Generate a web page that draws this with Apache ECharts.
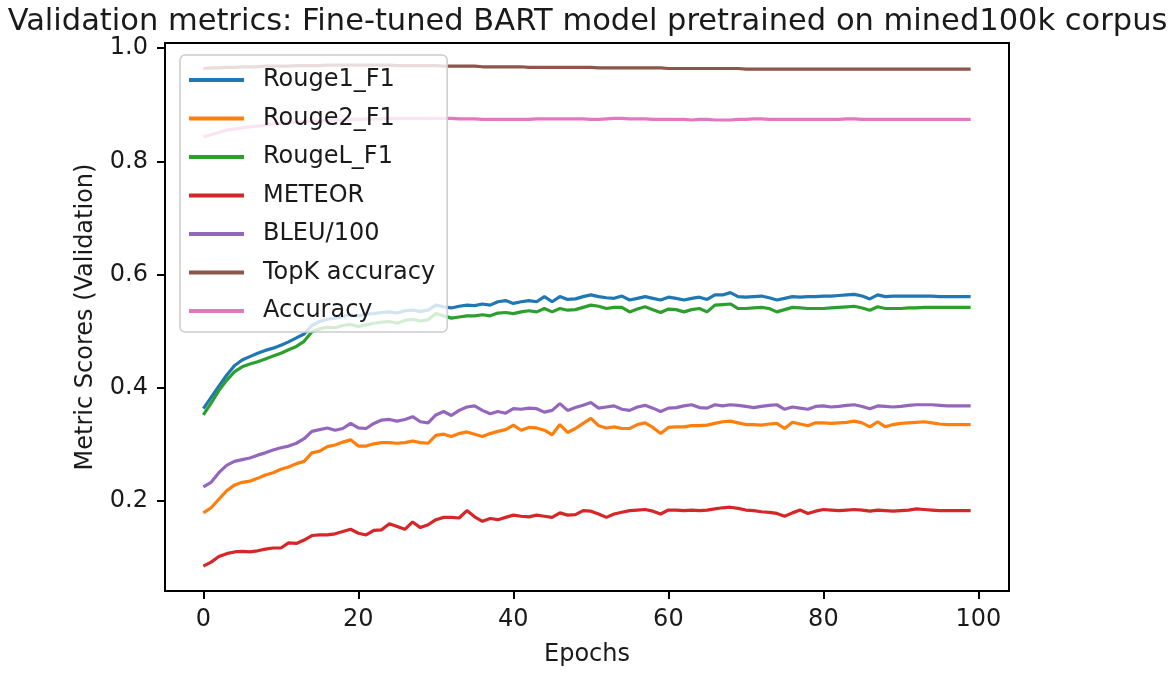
<!DOCTYPE html>
<html>
<head>
<meta charset="utf-8">
<script src="https://cdn.jsdelivr.net/npm/echarts@6/dist/echarts.min.js"></script>
<style>html,body{margin:0;padding:0;background:#fff;}#chart{width:1175px;height:675px;}</style>
</head>
<body>
<div id="chart"></div>
<script>
const titleText = 'Validation metrics: Fine-tuned BART model pretrained on mined100k corpus';
const seriesNames = ['Rouge1_F1', 'Rouge2_F1', 'RougeL_F1', 'METEOR', 'BLEU/100', 'TopK accuracy', 'Accuracy'];
const colors = ['#1f77b4', '#ff7f0e', '#2ca02c', '#d62728', '#9467bd', '#8c564b', '#e377c2'];
const xTicks = [0, 20, 40, 60, 80, 100];
const yTicks = [0.2, 0.4, 0.6, 0.8, 1.0];
const epochs = Array.from({length: 100}, (_, i) => i);

const rouge1 = [
0.363,0.383,0.403,0.422,0.439,0.449,0.455,0.461,0.466,0.470,
0.475,0.481,0.488,0.495,0.510,0.517,0.521,0.523,0.526,0.529,
0.527,0.530,0.531,0.533,0.534,0.532,0.536,0.537,0.535,0.537,
0.546,0.543,0.541,0.544,0.546,0.545,0.548,0.546,0.552,0.554,
0.549,0.552,0.554,0.552,0.561,0.552,0.561,0.556,0.557,0.561,
0.564,0.561,0.559,0.558,0.562,0.555,0.558,0.561,0.558,0.555,
0.560,0.558,0.555,0.558,0.560,0.556,0.564,0.564,0.568,0.561,
0.560,0.561,0.562,0.559,0.555,0.558,0.561,0.560,0.561,0.561,
0.562,0.562,0.563,0.564,0.565,0.562,0.557,0.564,0.561,0.562,
0.562,0.562,0.562,0.562,0.562,0.561,0.561,0.561,0.561,0.561];

const rouge2 = [
0.179,0.188,0.203,0.218,0.228,0.233,0.235,0.240,0.246,0.250,
0.256,0.260,0.266,0.270,0.285,0.288,0.296,0.299,0.304,0.308,
0.297,0.297,0.301,0.303,0.303,0.302,0.303,0.306,0.303,0.302,
0.316,0.318,0.314,0.319,0.322,0.318,0.314,0.319,0.323,0.326,
0.334,0.325,0.330,0.329,0.325,0.317,0.335,0.321,0.328,0.337,
0.346,0.333,0.329,0.331,0.328,0.328,0.335,0.338,0.330,0.319,
0.330,0.331,0.331,0.333,0.333,0.334,0.337,0.340,0.341,0.338,
0.335,0.335,0.334,0.336,0.337,0.328,0.339,0.336,0.333,0.338,
0.338,0.337,0.338,0.339,0.341,0.338,0.331,0.340,0.331,0.335,
0.337,0.338,0.339,0.340,0.338,0.336,0.335,0.335,0.335,0.335];

const rougeL = [
0.352,0.373,0.395,0.413,0.428,0.437,0.442,0.446,0.451,0.456,
0.461,0.467,0.473,0.482,0.499,0.504,0.507,0.506,0.510,0.512,
0.508,0.511,0.514,0.516,0.517,0.514,0.519,0.521,0.518,0.520,
0.531,0.527,0.523,0.525,0.527,0.527,0.529,0.527,0.532,0.533,
0.531,0.534,0.536,0.534,0.540,0.534,0.540,0.537,0.538,0.542,
0.546,0.544,0.540,0.542,0.542,0.534,0.539,0.543,0.538,0.533,
0.539,0.538,0.534,0.538,0.540,0.534,0.546,0.547,0.548,0.540,
0.540,0.541,0.542,0.540,0.534,0.538,0.542,0.541,0.540,0.540,
0.540,0.541,0.542,0.543,0.544,0.541,0.537,0.543,0.540,0.540,
0.540,0.541,0.541,0.542,0.542,0.542,0.542,0.542,0.542,0.542];

const meteor = [
0.085,0.092,0.102,0.107,0.110,0.111,0.110,0.112,0.115,0.117,
0.117,0.126,0.125,0.131,0.139,0.140,0.140,0.142,0.146,0.150,
0.143,0.140,0.148,0.149,0.160,0.155,0.150,0.163,0.153,0.158,
0.167,0.171,0.171,0.170,0.183,0.172,0.164,0.169,0.167,0.171,
0.175,0.173,0.172,0.175,0.173,0.171,0.179,0.175,0.176,0.183,
0.182,0.177,0.171,0.177,0.180,0.183,0.184,0.185,0.182,0.177,
0.184,0.184,0.183,0.184,0.183,0.184,0.186,0.188,0.189,0.187,
0.184,0.183,0.181,0.180,0.178,0.173,0.179,0.184,0.178,0.182,
0.185,0.184,0.183,0.184,0.185,0.184,0.182,0.184,0.183,0.182,
0.183,0.184,0.186,0.185,0.184,0.183,0.183,0.183,0.183,0.183];

const bleu = [
0.225,0.233,0.250,0.263,0.270,0.273,0.276,0.281,0.285,0.290,
0.294,0.297,0.302,0.310,0.323,0.326,0.329,0.325,0.328,0.337,
0.329,0.328,0.337,0.343,0.344,0.341,0.344,0.349,0.340,0.338,
0.352,0.358,0.351,0.360,0.366,0.368,0.360,0.354,0.358,0.355,
0.363,0.362,0.364,0.363,0.357,0.360,0.372,0.360,0.365,0.369,
0.374,0.364,0.366,0.368,0.362,0.360,0.366,0.369,0.364,0.358,
0.364,0.365,0.368,0.370,0.365,0.364,0.370,0.368,0.370,0.369,
0.367,0.365,0.367,0.369,0.370,0.362,0.366,0.364,0.362,0.367,
0.368,0.366,0.367,0.369,0.370,0.367,0.363,0.368,0.367,0.366,
0.367,0.369,0.370,0.370,0.370,0.369,0.368,0.368,0.368,0.368];

const topk = [
0.964,0.965,0.965,0.966,0.966,0.967,0.967,0.967,0.968,0.968,
0.968,0.968,0.969,0.969,0.969,0.969,0.970,0.970,0.970,0.970,
0.970,0.970,0.970,0.970,0.970,0.969,0.969,0.969,0.969,0.969,
0.969,0.968,0.968,0.968,0.968,0.968,0.967,0.967,0.967,0.967,
0.967,0.967,0.966,0.966,0.966,0.966,0.966,0.966,0.966,0.966,
0.966,0.965,0.965,0.965,0.965,0.965,0.965,0.965,0.965,0.965,
0.964,0.964,0.964,0.964,0.964,0.964,0.964,0.964,0.964,0.964,
0.963,0.963,0.963,0.963,0.963,0.963,0.963,0.963,0.963,0.963,
0.963,0.963,0.963,0.963,0.963,0.963,0.963,0.963,0.963,0.963,
0.963,0.963,0.963,0.963,0.963,0.963,0.963,0.963,0.963,0.963];

const accuracy = [
0.843,0.847,0.851,0.855,0.857,0.859,0.861,0.862,0.864,0.866,
0.867,0.868,0.869,0.870,0.871,0.871,0.872,0.873,0.873,0.874,
0.874,0.875,0.875,0.875,0.876,0.876,0.876,0.876,0.876,0.876,
0.876,0.876,0.876,0.875,0.875,0.875,0.874,0.874,0.874,0.874,
0.874,0.874,0.874,0.875,0.875,0.875,0.875,0.875,0.875,0.875,
0.874,0.874,0.875,0.876,0.876,0.875,0.875,0.875,0.874,0.874,
0.874,0.874,0.874,0.873,0.874,0.874,0.873,0.873,0.873,0.874,
0.874,0.875,0.875,0.874,0.874,0.874,0.874,0.874,0.874,0.874,
0.874,0.874,0.874,0.875,0.875,0.874,0.874,0.874,0.874,0.874,
0.874,0.874,0.874,0.874,0.874,0.874,0.874,0.874,0.874,0.874];

const allValues = [rouge1, rouge2, rougeL, meteor, bleu, topk, accuracy];

const FONT = 'DejaVu Sans';
const TXT = '#1a1a1a';

const chart = echarts.init(document.getElementById('chart'), null, {renderer: 'canvas'});
chart.setOption({
  animation: false,
  backgroundColor: '#ffffff',
  title: {
    text: titleText,
    left: 'center',
    top: 2,
    textStyle: {fontFamily: FONT, fontSize: 30.5, fontWeight: 'normal', color: TXT}
  },
  grid: {
    left: 165, right: 166, top: 43, bottom: 84,
    show: true, borderColor: '#000', borderWidth: 2, backgroundColor: 'transparent'
  },
  legend: {
    orient: 'vertical',
    left: 180, top: 55,
    padding: [12, 12, 8, 7],
    itemWidth: 55, itemHeight: 26, itemGap: 12.5,
    backgroundColor: 'rgba(255,255,255,0.8)',
    borderColor: '#cccccc', borderWidth: 1.5, borderRadius: 5,
    itemStyle: {opacity: 0, borderWidth: 0},
    lineStyle: {width: 4},
    textStyle: {fontFamily: FONT, fontSize: 24, color: TXT, padding: [0, 0, 0, 14], lineHeight: 26},
    data: seriesNames
  },
  xAxis: {
    type: 'value',
    min: -4.95, max: 103.95,
    name: 'Epochs', nameLocation: 'middle', nameGap: 52,
    nameTextStyle: {fontFamily: FONT, fontSize: 24, color: TXT},
    axisLine: {show: true, onZero: false, lineStyle: {color: '#000', width: 2}},
    axisTick: {show: true, length: 8, customValues: xTicks, lineStyle: {color: '#000', width: 2}},
    axisLabel: {customValues: xTicks, margin: 17, fontFamily: FONT, fontSize: 24, color: TXT},
    splitLine: {show: false}
  },
  yAxis: {
    type: 'value',
    min: 0.041, max: 1.009,
    name: 'Metric Scores (Validation)', nameLocation: 'middle', nameGap: 67, nameRotate: 90,
    nameTextStyle: {fontFamily: FONT, fontSize: 24, color: TXT},
    axisLine: {show: true, onZero: false, lineStyle: {color: '#000', width: 2}},
    axisTick: {show: true, length: 8, customValues: yTicks, lineStyle: {color: '#000', width: 2}},
    axisLabel: {customValues: yTicks, margin: 17, fontFamily: FONT, fontSize: 24, color: TXT,
      formatter: v => v.toFixed(1)},
    splitLine: {show: false}
  },
  series: seriesNames.map((name, k) => ({
    name: name,
    type: 'line',
    symbol: 'none',
    showSymbol: false,
    color: colors[k],
    lineStyle: {color: colors[k], width: 3.2},
    data: epochs.map((e, i) => [e, allValues[k][i]])
  }))
});
</script>
</body>
</html>
